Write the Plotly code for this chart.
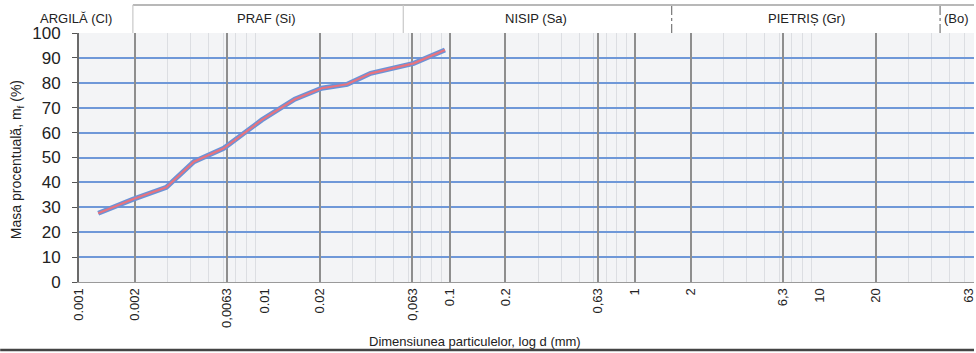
import plotly.graph_objects as go

# Grain size data (mm) and cumulative passing mass (%)
diam_mm = [0.00127, 0.00195, 0.00296, 0.00417, 0.00604, 0.0097, 0.0146, 0.0204, 0.028, 0.0375, 0.064, 0.0944]
passing_pct = [27.6, 33.2, 38.0, 48.3, 53.7, 65.1, 73.4, 77.8, 79.4, 83.8, 87.8, 93.2]

tick_vals = [0.001, 0.002, 0.0063, 0.01, 0.02, 0.063, 0.1, 0.2, 0.63, 1, 2, 6.3, 10, 20, 63]
tick_text = ["0.001", "0.002", "0,0063", "0.01", "0.02", "0,063", "0.1", "0.2", "0,63", "1", "2", "6,3", "10", "20", "63"]
grid_dark = [0.002, 0.0063, 0.02, 0.063, 0.1, 0.2, 0.63, 1, 2, 6.3, 20]
minor_grid = [m * 10 ** e for e in range(-3, 2) for m in range(2, 10)]

header_labels = ["ARGILĂ (Cl)", "PRAF (Si)", "NISIP (Sa)", "PIETRIȘ (Gr)", "(Bo)"]

W, H = 976, 353
L, R, T, B = 79, 0, 33, 71
pw, ph = W - L - R, H - T - B

def px(x):
    return (x - L) / pw

def py(y):
    return (H - B - y) / ph

fig = go.Figure()
# invisible anchor trace on primary axis
fig.add_trace(go.Scatter(x=diam_mm, y=passing_pct, mode="lines", line=dict(width=0),
                         hoverinfo="skip", showlegend=False, opacity=0))
fig.add_trace(go.Scatter(x=diam_mm, y=passing_pct, mode="lines", xaxis="x2",
                         line=dict(color="#6a93d8", width=5), hoverinfo="skip", showlegend=False))
fig.add_trace(go.Scatter(x=diam_mm, y=passing_pct, mode="lines", xaxis="x2",
                         line=dict(color="#e8737e", width=2.2), showlegend=False))

font = "Liberation Sans, Arial, sans-serif"

fig.update_layout(
    width=W, height=H,
    margin=dict(l=L, r=R, t=T, b=B),
    paper_bgcolor="white",
    plot_bgcolor="#f3f4f6",
    font=dict(family=font, color="#222"),
    xaxis=dict(type="log", range=[-3, 1.83], tickvals=tick_vals, ticktext=tick_text,
               tickangle=-90, tickfont=dict(size=13, color="#222"),
               ticklabeloverflow="allow",
               showgrid=False, showline=True, linecolor="#9a9a9a", linewidth=1,
               ticks="", zeroline=False,
               minor=dict(showgrid=True, tickvals=minor_grid, gridcolor="#dcdee2",
                          gridwidth=1, ticks="")),
    xaxis2=dict(type="log", range=[-3, 1.83], overlaying="x", matches="x",
                tickvals=grid_dark, showticklabels=False, showgrid=True,
                gridcolor="#8e8e8e", gridwidth=2, ticks="", showline=False, zeroline=False),
    yaxis=dict(range=[0, 100], dtick=10, tickfont=dict(size=17, color="#222"),
               showgrid=True, gridcolor="#6f98d8", gridwidth=1.5,
               showline=True, linecolor="#6a6a6a", linewidth=2,
               ticks="outside", ticklen=5, tickcolor="#555", zeroline=False,
               ticklabelstandoff=8),
)

# axis titles
fig.add_annotation(text="Dimensiunea particulelor, log d (mm)", xref="paper", yref="paper",
                   x=px(476), y=py(341), showarrow=False, font=dict(size=13, color="#222"),
                   xanchor="center", yanchor="middle")
fig.add_annotation(text="Masa procentuală, m<sub>f</sub> (%)", xref="paper", yref="paper",
                   x=px(17), y=py(160), textangle=-90, showarrow=False,
                   font=dict(size=14, color="#222"), xanchor="center", yanchor="middle")

# header band
header_x = [76, 267, 537, 808, 958]
for lab, hx in zip(header_labels, header_x):
    fig.add_annotation(text=lab, xref="paper", yref="paper", x=px(hx), y=py(19),
                       showarrow=False, font=dict(size=13, color="#222"),
                       xanchor="center", yanchor="middle")

fig.add_shape(type="line", xref="paper", yref="paper", x0=px(133), x1=1.0, y0=py(5), y1=py(5),
              line=dict(color="#a0a0a0", width=1.5))
for xv, dash, col in [(133, "solid", "#c8c8c8"), (404, "solid", "#c8c8c8"),
                      (673, "dashdot", "#777"), (942, "dashdot", "#777")]:
    fig.add_shape(type="line", xref="paper", yref="paper", x0=px(xv), x1=px(xv),
                  y0=py(33), y1=py(5), line=dict(color=col, width=1.2, dash=dash))

# scan border at bottom
fig.add_shape(type="line", xref="paper", yref="paper", x0=px(0), x1=1.0, y0=py(350), y1=py(350),
              line=dict(color="#444", width=2.5))

fig.write_html("out.html", config={"displayModeBar": False},
               post_script="document.body.style.margin='0';document.body.style.overflow='hidden';")
